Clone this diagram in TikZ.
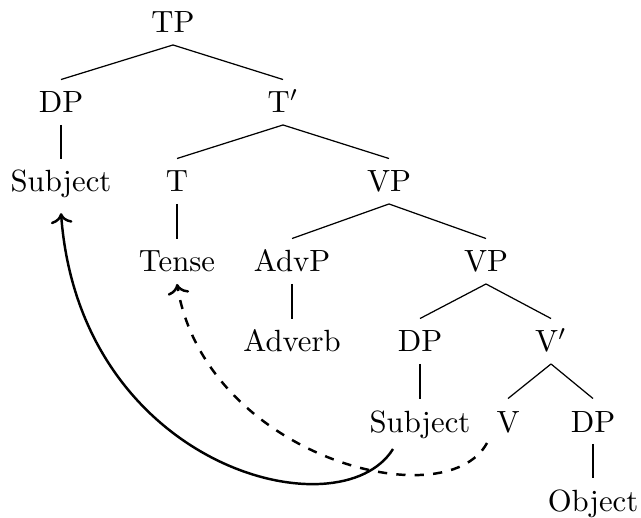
\documentclass[tikz,border=0pt]{standalone}
\usetikzlibrary{arrows.meta}
\begin{document}
\begin{tikzpicture}[x=0.01145cm,y=-0.01145cm,
  tn/.style={inner xsep=2pt,inner ysep=3.7pt,text height=7pt,text depth=0pt,anchor=base},
  edge/.style={line width=0.4pt},
  mv/.style={thick,->}]
\useasboundingbox (0,0) rectangle (641,518);
% level 0
\node[tn] (tp) at (173,33) {TP};
% level 1
\node[tn] (dp1) at (61,113) {DP};
\node[tn] (tbar) at (283,113) {T$'$};
% level 2
\node[tn] (subj1) at (61,192) {Subject};
\node[tn] (t) at (177,192) {T};
\node[tn] (vp1) at (389,192) {VP};
% level 3
\node[tn] (tense) at (177,272) {Tense};
\node[tn] (advp) at (292,272) {AdvP};
\node[tn] (vp2) at (486,272) {VP};
% level 4
\node[tn] (adverb) at (292,352) {Adverb};
\node[tn] (dp2) at (420,352) {DP};
\node[tn] (vbar) at (551,352) {V$'$};
% level 5
\node[tn] (subj2) at (420,432) {Subject};
\node[tn] (v) at (508,432) {V};
\node[tn] (dp3) at (593,432) {DP};
% level 6
\node[tn] (obj) at (593,511) {Object};
% edges
\draw[edge] (tp.south) -- (dp1.north);
\draw[edge] (tp.south) -- (tbar.north);
\draw[edge] (dp1.south) -- (subj1.north);
\draw[edge] (tbar.south) -- (t.north);
\draw[edge] (tbar.south) -- (vp1.north);
\draw[edge] (t.south) -- (tense.north);
\draw[edge] (vp1.south) -- (advp.north);
\draw[edge] (vp1.south) -- (vp2.north);
\draw[edge] (advp.south) -- (adverb.north);
\draw[edge] (vp2.south) -- (dp2.north);
\draw[edge] (vp2.south) -- (vbar.north);
\draw[edge] (dp2.south) -- (subj2.north);
\draw[edge] (vbar.south) -- (v.north);
\draw[edge] (vbar.south) -- (dp3.north);
\draw[edge] (dp3.south) -- (obj.north);
% movement arrows
\coordinate (s2) at (393,449);
\coordinate (v0) at (487,443);
\draw[mv] (s2) .. controls (340,534) and (80,468) .. ([yshift=-3pt]subj1.south);
\draw[mv,dashed] (v0) .. controls (445,520) and (205,455) .. (tense.south);
\end{tikzpicture}
\end{document}
